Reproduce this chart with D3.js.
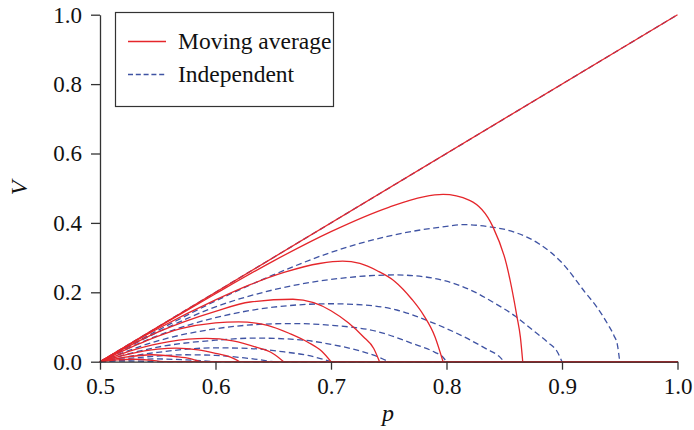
<!DOCTYPE html>
<html>
<head>
<meta charset="utf-8">
<script src="https://cdn.jsdelivr.net/npm/d3@7"></script>
<style>
  html, body { margin: 0; padding: 0; background: #fff; }
  svg { display: block; }
</style>
</head>
<body>
<div id="vis"></div>
<script>
// values: p on x, V on y
const xTicks = [0.5, 0.6, 0.7, 0.8, 0.9, 1.0];
const yTicks = [0.0, 0.2, 0.4, 0.6, 0.8, 1.0];
const legendLabels = ["Moving average", "Independent"];

// Independent (blue dashed) curves, each runs along V = 0 after its last point
const indepP = [
  [0.5, 1],
  [0.5, 0.55, 0.6, 0.65, 0.7, 0.75, 0.8, 0.815, 0.835, 0.86, 0.88, 0.9, 0.92, 0.93, 0.94, 0.945, 0.948, 0.95],
  [0.5, 0.55, 0.6, 0.65, 0.7, 0.755, 0.78, 0.8, 0.82, 0.84, 0.86, 0.875, 0.888, 0.896, 0.9],
  [0.5, 0.55, 0.6, 0.65, 0.7, 0.73, 0.757, 0.786, 0.815, 0.835, 0.845, 0.85],
  [0.5, 0.55, 0.6, 0.635, 0.665, 0.7, 0.74, 0.77, 0.79, 0.797, 0.8],
  [0.5, 0.55, 0.6, 0.635, 0.67, 0.7, 0.725, 0.74, 0.75],
  [0.5, 0.55, 0.6, 0.63, 0.66, 0.68, 0.7],
  [0.5, 0.54, 0.575, 0.6, 0.625, 0.65],
  [0.5, 0.53, 0.55, 0.575, 0.6],
  [0.5, 0.525, 0.55]
];
const indepV = [
  [0, 1],
  [0, 0.09, 0.175, 0.25, 0.315, 0.362, 0.39, 0.395, 0.39, 0.372, 0.34, 0.285, 0.2, 0.158, 0.106, 0.075, 0.048, 0],
  [0, 0.085, 0.158, 0.207, 0.237, 0.25, 0.245, 0.232, 0.208, 0.172, 0.13, 0.09, 0.055, 0.028, 0],
  [0, 0.075, 0.127, 0.157, 0.167, 0.163, 0.149, 0.115, 0.072, 0.036, 0.017, 0],
  [0, 0.06, 0.095, 0.107, 0.11, 0.105, 0.087, 0.053, 0.027, 0.013, 0],
  [0, 0.042, 0.062, 0.068, 0.064, 0.05, 0.031, 0.015, 0],
  [0, 0.027, 0.04, 0.038, 0.028, 0.018, 0],
  [0, 0.014, 0.02, 0.018, 0.011, 0],
  [0, 0.006, 0.008, 0.005, 0],
  [0, 0.002, 0]
];

// Moving average (red solid) curves
const maP = [
  [0.5, 1],
  [0.5, 0.55, 0.6, 0.65, 0.7, 0.75, 0.78, 0.797, 0.82, 0.84, 0.852, 0.861, 0.864, 0.866],
  [0.5, 0.55, 0.6, 0.63, 0.66, 0.69, 0.71, 0.725, 0.74, 0.755, 0.77, 0.78, 0.79, 0.797],
  [0.5, 0.55, 0.6, 0.63, 0.667, 0.685, 0.7, 0.715, 0.728, 0.737, 0.742],
  [0.5, 0.54, 0.57, 0.6, 0.62, 0.645, 0.665, 0.68, 0.692, 0.7],
  [0.5, 0.53, 0.56, 0.592, 0.615, 0.635, 0.65, 0.659],
  [0.5, 0.525, 0.55, 0.566, 0.585, 0.6, 0.613, 0.621],
  [0.5, 0.52, 0.545, 0.565, 0.578, 0.587],
  [0.5, 0.515, 0.528, 0.545, 0.555]
];
const maV = [
  [0, 1],
  [0, 0.099, 0.196, 0.29, 0.375, 0.445, 0.475, 0.482, 0.465, 0.39, 0.28, 0.13, 0.07, 0],
  [0, 0.095, 0.178, 0.222, 0.258, 0.283, 0.29, 0.283, 0.262, 0.232, 0.18, 0.135, 0.072, 0],
  [0, 0.085, 0.145, 0.172, 0.18, 0.17, 0.147, 0.112, 0.072, 0.038, 0],
  [0, 0.06, 0.095, 0.112, 0.115, 0.105, 0.08, 0.056, 0.03, 0],
  [0, 0.035, 0.058, 0.067, 0.06, 0.042, 0.023, 0],
  [0, 0.022, 0.036, 0.039, 0.034, 0.024, 0.013, 0],
  [0, 0.012, 0.02, 0.015, 0.009, 0],
  [0, 0.005, 0.007, 0.004, 0]
];

const RED = "#e5262b";
const BLUE = "#3f53a3";
const AXIS = "#333";
const SERIF = '"Liberation Serif", "DejaVu Serif", serif';

const width = 694, height = 430;
const svg = d3.select("#vis").append("svg")
  .attr("width", width)
  .attr("height", height)
  .attr("font-family", SERIF);

const x = d3.scaleLinear().domain([0.5, 1]).range([100, 677.5]);
const y = d3.scaleLinear().domain([0, 1]).range([361.7, 14.7]);

const line = d3.line()
  .x(d => x(d[0]))
  .y(d => y(d[1]))
  .curve(d3.curveMonotoneX);

const zipped = (ps, vs) => ps.map((p, i) => p.map((v, j) => [v, vs[i][j]]));
// flat part on the axis, from where a curve reaches zero up to p = 1
const tails = ps => ps.filter(p => p[p.length - 1] < 1).map(p => [[p[p.length - 1], 0], [1, 0]]);

function drawSet(ps, vs, color, dash) {
  const g = svg.append("g")
    .attr("fill", "none")
    .attr("stroke", color)
    .attr("stroke-width", 1.3)
    .attr("stroke-dasharray", dash);
  g.selectAll("path.curve")
    .data(zipped(ps, vs))
    .join("path")
    .attr("class", "curve")
    .attr("d", line);
  g.selectAll("path.tail")
    .data(tails(ps))
    .join("path")
    .attr("class", "tail")
    .attr("d", d3.line().x(d => x(d[0])).y(d => y(d[1])));
}

// blue dashed first, red solid on top
drawSet(indepP, indepV, BLUE, "6,3.5");
drawSet(maP, maV, RED, null);

// axes
const xAxis = svg.append("g")
  .attr("transform", `translate(0,${y(0)})`)
  .call(d3.axisBottom(x).tickValues(xTicks).tickFormat(d3.format(".1f"))
    .tickSize(8).tickSizeOuter(0).tickPadding(8));

const yAxis = svg.append("g")
  .attr("transform", `translate(${x(0.5)},0)`)
  .call(d3.axisLeft(y).tickValues(yTicks).tickFormat(d3.format(".1f"))
    .tickSize(9).tickSizeOuter(0).tickPadding(9));

[xAxis, yAxis].forEach(a => {
  a.attr("font-family", SERIF).attr("font-size", 23);
  a.select(".domain").attr("stroke", AXIS).attr("stroke-width", 1.3);
  a.selectAll(".tick line").attr("stroke", AXIS).attr("stroke-width", 1.3);
  a.selectAll(".tick text").attr("fill", "#111");
});

// axis titles
svg.append("text")
  .attr("x", 388)
  .attr("y", 421)
  .attr("text-anchor", "middle")
  .attr("font-style", "italic")
  .attr("font-size", 24)
  .attr("fill", "#111")
  .text("p");

svg.append("text")
  .attr("transform", "translate(27,188) rotate(-90)")
  .attr("text-anchor", "middle")
  .attr("font-style", "italic")
  .attr("font-size", 24)
  .attr("fill", "#111")
  .text("V");

// legend
const legend = svg.append("g");
legend.append("rect")
  .attr("x", 115.5).attr("y", 12.5)
  .attr("width", 218).attr("height", 94)
  .attr("fill", "#fff")
  .attr("stroke", AXIS)
  .attr("stroke-width", 1.2);

const legendY = [41.5, 74.5];
legendLabels.forEach((label, i) => {
  legend.append("line")
    .attr("x1", 128).attr("x2", 166)
    .attr("y1", legendY[i]).attr("y2", legendY[i])
    .attr("stroke", i === 0 ? RED : BLUE)
    .attr("stroke-width", 1.3)
    .attr("stroke-dasharray", i === 0 ? null : "5,2.8");
  legend.append("text")
    .attr("x", 178)
    .attr("y", legendY[i] + 7)
    .attr("font-size", 23.5)
    .attr("fill", "#111")
    .text(label);
});
</script>
</body>
</html>
